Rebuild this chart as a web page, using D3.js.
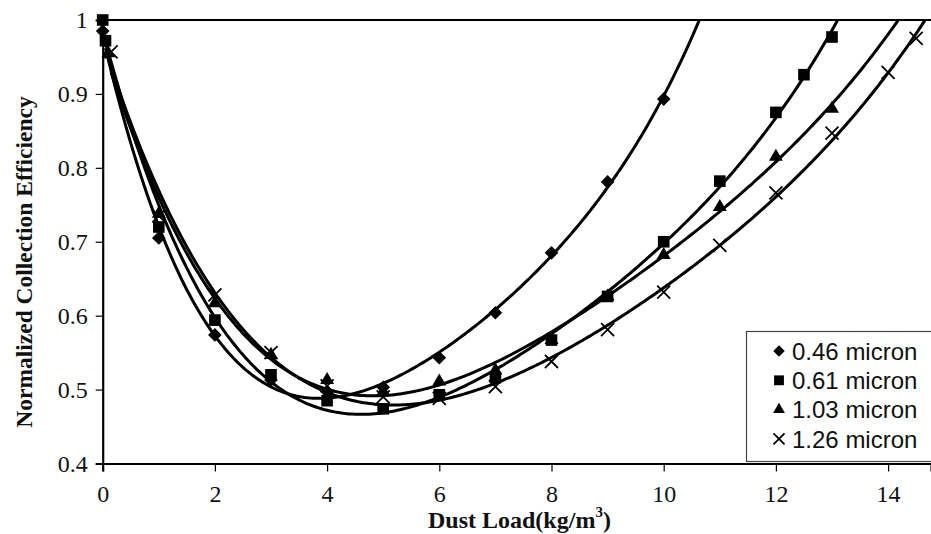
<!DOCTYPE html>
<html><head><meta charset="utf-8">
<script src="https://cdn.jsdelivr.net/npm/d3@7"></script>
<style>body{margin:0;background:#fff}svg{display:block}</style>
</head><body>
<svg id="c" width="931" height="534"></svg>
<script>
// ---- data ----
const seriesNames = ["0.46 micron", "0.61 micron", "1.03 micron", "1.26 micron"];
const x046 = [0, 1, 2, 3, 4, 5, 6, 7, 8, 9, 10];
const y046 = [0.985, 0.705, 0.574, 0.513, 0.497, 0.503, 0.543, 0.604, 0.685, 0.781, 0.893];
const x061 = [0, 0.05, 1, 2, 3, 4, 5, 6, 7, 8, 9, 10, 11, 12, 12.5, 13];
const y061 = [1.0, 0.972, 0.72, 0.594, 0.52, 0.485, 0.474, 0.493, 0.516, 0.567, 0.626, 0.70, 0.782, 0.875, 0.926, 0.977];
const x103 = [0.1, 1, 2, 3, 4, 5, 6, 7, 8, 9, 10, 11, 12, 13];
const y103 = [0.955, 0.738, 0.617, 0.547, 0.513, 0.497, 0.511, 0.526, 0.567, 0.626, 0.682, 0.747, 0.815, 0.88];
const x126 = [0.15, 1, 2, 3, 4, 5, 6, 7, 8, 9, 10, 11, 12, 13, 14, 14.5];
const y126 = [0.957, 0.735, 0.628, 0.55, 0.505, 0.49, 0.488, 0.504, 0.538, 0.581, 0.632, 0.695, 0.766, 0.847, 0.929, 0.975];
const xTicks = [0, 2, 4, 6, 8, 10, 12, 14];
const yTicks = [0.4, 0.5, 0.6, 0.7, 0.8, 0.9, 1];
const yTickLabels = ["0.4", "0.5", "0.6", "0.7", "0.8", "0.9", "1"];
const markerTypes = ["diamond", "square", "triangle", "cross"];
const trendDegree = 4;

const series = [
  {name: seriesNames[0], xs: x046, ys: y046, m: markerTypes[0]},
  {name: seriesNames[1], xs: x061, ys: y061, m: markerTypes[1]},
  {name: seriesNames[2], xs: x103, ys: y103, m: markerTypes[2]},
  {name: seriesNames[3], xs: x126, ys: y126, m: markerTypes[3]}
];

// ---- layout ----
const W = 931, H = 534;
const L = 102.7, R = 931, T = 20, B = 463.5;
const xs = d3.scaleLinear().domain([0, (R - L) / 56.1]).range([L, R]);
const ys = d3.scaleLinear().domain([0.4, 1]).range([B, T]);

const svg = d3.select("#c");
svg.append("rect").attr("width", W).attr("height", H).attr("fill", "#fff");
svg.append("defs").append("clipPath").attr("id", "pc")
  .append("rect").attr("x", L).attr("y", T).attr("width", R - L).attr("height", B - T);

// least-squares polynomial trendline
function polyfit(X, Y, deg) {
  const n = deg + 1, s = 10;
  const A = Array.from({length: n}, () => new Array(n + 1).fill(0));
  for (let k = 0; k < X.length; k++) {
    const xv = X[k] / s;
    const p = [];
    for (let i = 0; i < n; i++) p.push(Math.pow(xv, i));
    for (let i = 0; i < n; i++) {
      for (let j = 0; j < n; j++) A[i][j] += p[i] * p[j];
      A[i][n] += p[i] * Y[k];
    }
  }
  for (let i = 0; i < n; i++) {
    let mx = i;
    for (let r = i + 1; r < n; r++) if (Math.abs(A[r][i]) > Math.abs(A[mx][i])) mx = r;
    [A[i], A[mx]] = [A[mx], A[i]];
    for (let r = 0; r < n; r++) {
      if (r === i) continue;
      const f = A[r][i] / A[i][i];
      for (let c = i; c <= n; c++) A[r][c] -= f * A[i][c];
    }
  }
  const coef = A.map((row, i) => row[n] / row[i]);
  return x => coef.reduce((acc, c, i) => acc + c * Math.pow(x / s, i), 0);
}

const serif = "'Liberation Serif','Times New Roman',serif";
const yAxis = d3.axisLeft(ys).tickValues(yTicks).tickFormat((d, i) => yTickLabels[i]).tickSize(7).tickPadding(8);
const xAxis = d3.axisBottom(xs).tickValues(xTicks).tickFormat(d3.format("d")).tickSize(8).tickPadding(13);
const gy = svg.append("g").attr("transform", `translate(${L},0)`).call(yAxis);
const gx = svg.append("g").attr("transform", `translate(0,${B})`).call(xAxis);
[gx, gy].forEach(g => {
  g.select(".domain").attr("stroke", "#000").attr("stroke-width", 2.2);
  g.selectAll(".tick line").attr("stroke", "#000").attr("stroke-width", 1.2);
  g.selectAll(".tick text").attr("fill", "#111").attr("font-family", serif).attr("font-size", 24);
});
svg.append("line").attr("x1", L).attr("x2", R).attr("y1", T).attr("y2", T).attr("stroke", "#000").attr("stroke-width", 2.2);

// trend curves
const line = d3.line().x(d => xs(d[0])).y(d => ys(d[1]));
const gc = svg.append("g").attr("clip-path", "url(#pc)");
series.forEach(s => {
  const f = polyfit(s.xs, s.ys, trendDegree);
  const x0 = d3.min(s.xs) + 0.05;
  const pts = d3.range(x0, xs.domain()[1] + 0.05, 0.05).map(x => [x, f(x)]);
  gc.append("path").attr("d", line(pts)).attr("fill", "none").attr("stroke", "#000").attr("stroke-width", 3);
});

// markers
function marker(g, type, size) {
  if (type === "diamond") {
    g.append("path").attr("d", d3.symbol(d3.symbolSquare, size * size * 0.55)()).attr("transform", "rotate(45)").attr("fill", "#000");
  } else if (type === "square") {
    g.append("path").attr("d", d3.symbol(d3.symbolSquare, size * size * 0.8)()).attr("fill", "#000");
  } else if (type === "triangle") {
    g.append("path").attr("d", d3.symbol(d3.symbolTriangle, size * size * 0.5)()).attr("fill", "#000");
  } else {
    const h = size / 2;
    g.append("path").attr("d", `M${-h},${-h}L${h},${h}M${-h},${h}L${h},${-h}`).attr("stroke", "#000").attr("stroke-width", 1.8).attr("fill", "none");
  }
}
series.forEach(s => {
  s.xs.forEach((xv, i) => {
    const g = svg.append("g").attr("transform", `translate(${xs(xv)},${ys(s.ys[i])})`);
    marker(g, s.m, 13);
  });
});

// axis titles
svg.append("text").attr("x", 428).attr("y", 528)
  .attr("font-family", serif).attr("font-weight", "bold").attr("font-size", 24).attr("fill", "#111")
  .call(t => {
    t.append("tspan").text("Dust Load(kg/m");
    t.append("tspan").text("3").attr("font-size", 15).attr("dy", -11);
    t.append("tspan").text(")").attr("dy", 11);
  });
svg.append("text").attr("transform", "translate(32,262) rotate(-90)").attr("text-anchor", "middle")
  .attr("font-family", serif).attr("font-weight", "bold").attr("font-size", 23.5).attr("fill", "#111")
  .text("Normalized Collection Efficiency");

// legend
const lg = svg.append("g");
lg.append("rect").attr("x", 746.5).attr("y", 331.5).attr("width", 200).attr("height", 130).attr("fill", "#fff").attr("stroke", "#444").attr("stroke-width", 1.2);
series.forEach((s, i) => {
  const cy = 351 + i * 29.3;
  const g = lg.append("g").attr("transform", `translate(779,${cy})`);
  marker(g, s.m, 11);
  lg.append("text").attr("x", 792).attr("y", cy).attr("dy", "0.36em")
    .attr("font-family", "'Liberation Sans',Arial,sans-serif").attr("font-size", 24).attr("fill", "#111").text(s.name);
});
</script>
</body></html>
